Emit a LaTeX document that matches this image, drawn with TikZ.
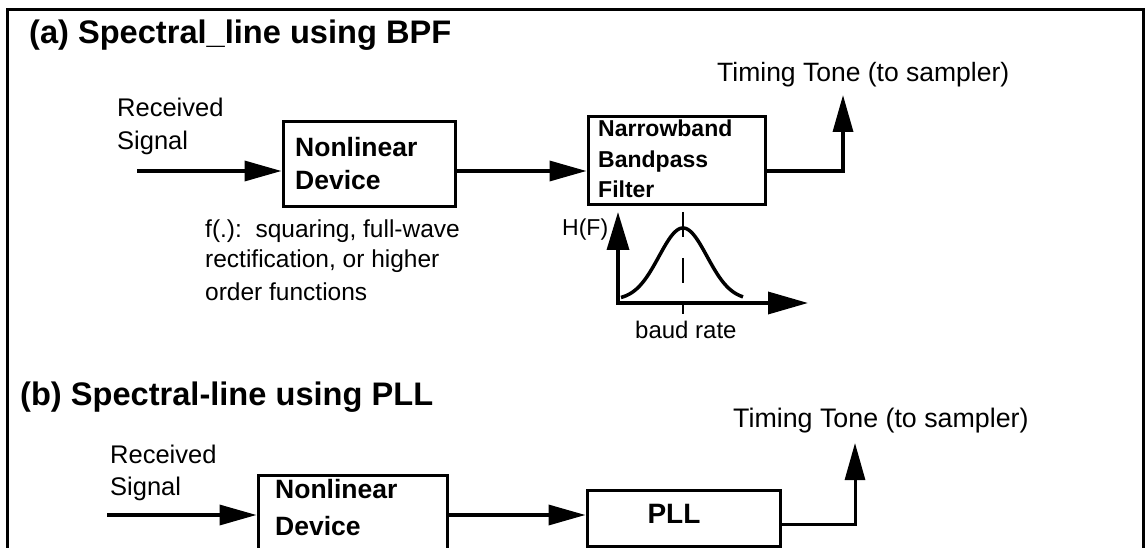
\documentclass[tikz,border=0pt]{standalone}
\usepackage{fontspec}
\setmainfont{Liberation Sans}
\usetikzlibrary{arrows.meta}
\begin{document}
\begin{tikzpicture}[x=1pt,y=-1pt,
  lbl/.style={inner sep=0pt, anchor=base west, font=\fontsize{25.5}{30}\selectfont},
  small/.style={inner sep=0pt, anchor=base west, font=\fontsize{24.5}{30}\selectfont},
  ttl/.style={inner sep=0pt, anchor=base west, font=\bfseries\fontsize{32.6}{38}\selectfont},
  btxt/.style={inner sep=0pt, anchor=base west, font=\bfseries\fontsize{26.5}{30}\selectfont},
  nbtxt/.style={inner sep=0pt, anchor=base west, font=\bfseries\fontsize{23}{28}\selectfont},
  blk/.style={draw, line width=3pt, inner sep=0pt},
  framestyle/.style={draw, line width=3pt},
  arr/.style={line width=3.5pt, -{Triangle[length=37pt,width=20pt]}},
  axes/.style={line width=3.5pt, {Triangle[length=38pt,width=22pt]}-{Triangle[length=40pt,width=22pt]}}
]
\useasboundingbox (0,0) rectangle (1146,548);
\clip (0,0) rectangle (1146,548);
\draw[framestyle] (7,575) -- (7,10) -- (1143,10) -- (1143,575);

% ---------- (a) ----------
\node[ttl] (ta) at (29,44) {(a) Spectral\_line using BPF};
\node[lbl] (rsa1) at (117,117) {Received};
\node[lbl] (rsa2) at (117,150) {Signal};

\node[blk, minimum width=172pt, minimum height=85pt] (nla) at (369,164.5) {};
\node[btxt] (nla1) at (295,157) {Nonlinear};
\node[btxt] (nla2) at (295,190) {Device};

\node[blk, minimum width=177pt, minimum height=88pt] (nb) at (676.5,161) {};
\node[nbtxt] (nb1) at (598,137) {Narrowband};
\node[nbtxt] (nb2) at (598,168) {Bandpass};
\node[nbtxt] (nb3) at (598,198) {Filter};

\node[lbl, font=\fontsize{26.5}{30}\selectfont] (tta) at (717,82) {Timing Tone (to sampler)};

\node[small] (fa1) at (205,237) {f(.):\ \ squaring, full-wave};
\node[small] (fa2) at (205,268) {rectification, or higher};
\node[small] (fa3) at (205,300) {order functions};

\coordinate (ina) at (137,171);
\coordinate (ya) at (0,171);
\coordinate (outa) at (843,95);
\draw[arr] (ina) -- (nla.west |- ya);
\draw[arr] (nla.east |- ya) -- (nb.west |- ya);
\draw[arr] (nb.east |- ya) -| (outa);

% frequency response
\coordinate (org) at (618,303);
\coordinate (yt) at (618,212);
\coordinate (xt) at (808,303);
\draw[axes] (yt) -- (org) -- (xt);
\draw[line width=3.5pt, line join=round] plot[domain=621:743, samples=80, smooth]
  (\x,{300-72*exp(-((\x-683)/24)^2/2)});
\draw[line width=2.5pt, dash pattern=on 25pt off 21pt] (683,212) -- (683,314);
\node[lbl, font=\fontsize{23}{28}\selectfont] (hf) at (562,236) {H(F)};
\node[lbl, font=\fontsize{24}{28}\selectfont] (br) at (635,338) {baud rate};

% ---------- (b) ----------
\node[ttl] (tb) at (20,405) {(b) Spectral-line using PLL};
\node[lbl] (rsb1) at (110,463) {Received};
\node[lbl] (rsb2) at (110,495) {Signal};

\node[blk, minimum width=189pt, minimum height=110pt] (nlbx) at (352.5,530) {};
\node[btxt] (nlb1) at (275,498) {Nonlinear};
\node[btxt] (nlb2) at (275,535) {Device};

\node[blk, minimum width=193pt, minimum height=56pt] (pll) at (683.5,518) {};
\node[inner sep=0pt, anchor=base, font=\bfseries\fontsize{28}{32}\selectfont] (plltxt) at (674,523) {PLL};

\node[lbl, font=\fontsize{26.8}{30}\selectfont] (ttb) at (733,427) {Timing Tone (to sampler)};

\coordinate (inb) at (107,515);
\coordinate (yb) at (0,515);
\coordinate (yb2) at (0,524);
\coordinate (outb) at (855,443);
\draw[arr] (inb) -- (nlbx.west |- yb);
\draw[arr] (nlbx.east |- yb) -- (pll.west |- yb);
\draw[arr, line width=3pt] (pll.east |- yb2) -| (outb);
\end{tikzpicture}
\end{document}
